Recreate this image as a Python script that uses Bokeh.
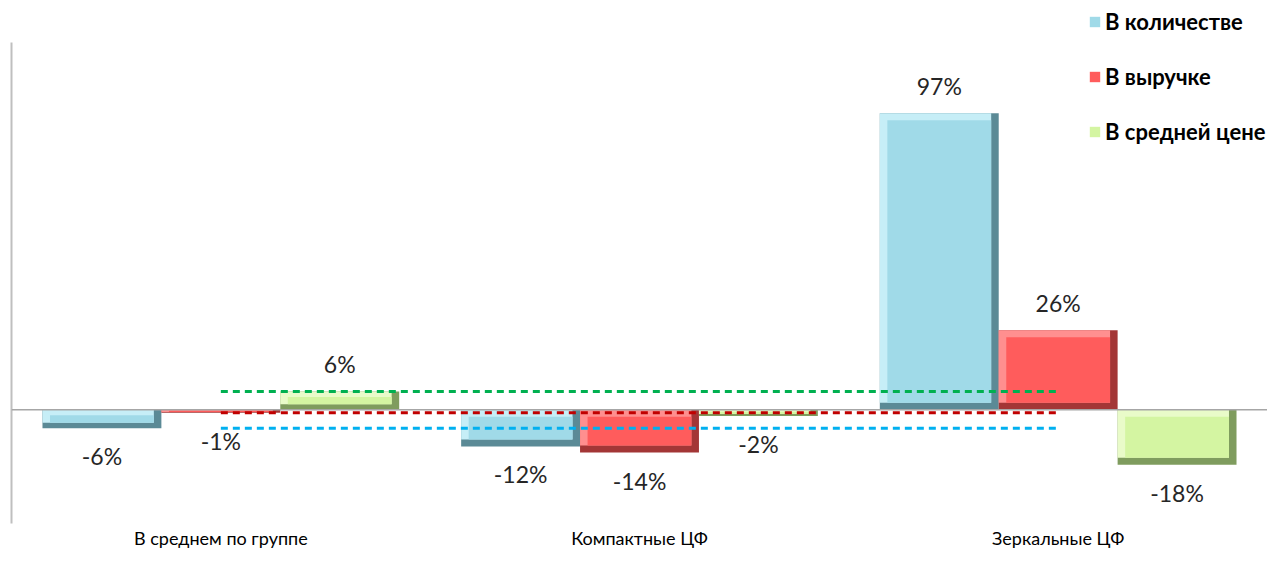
from bokeh.plotting import figure
from bokeh.models import ColumnDataSource, FactorRange, Range1d, Span, Legend, LegendItem, FixedTicker
from bokeh.transform import dodge
from bokeh.core.properties import value
from bokeh.embed import file_html
from bokeh.resources import INLINE

categories = ["В среднем по группе", "Компактные ЦФ", "Зеркальные ЦФ"]
series_names = ["В количестве", "В выручке", "В средней цене"]
qty = [-6, -12, 97]
revenue = [-1, -14, 26]
avg_price = [6, -2, -18]

faces = ["#a0dae8", "#ff5c5c", "#d4f5a2"]
lights = ["#c6eef7", "#ff8f8f", "#e9fbc9"]
darks = ["#5b8a96", "#a33636", "#7f9c5e"]
avg_colors = ["#00b0f0", "#c00000", "#00b050"]
offsets = [-0.284, 0.0, 0.284]
bar_w = 0.284
edge_d = 0.018
edge_i = 2.3

y_lo, y_hi = -37.2, 120.2

p = figure(x_range=FactorRange(factors=categories, range_padding=0),
           y_range=Range1d(y_lo, 133.9),
           width=1267, height=551, output_backend="svg", toolbar_location=None,
           min_border_left=11, min_border_right=0, min_border_top=0, min_border_bottom=0)
p.outline_line_color = None
p.xgrid.visible = False
p.ygrid.visible = False
p.background_fill_color = "white"

p.yaxis.ticker = FixedTicker(ticks=[])
p.yaxis.bounds = (y_lo, y_hi)
p.yaxis.major_tick_line_color = None
p.yaxis.minor_tick_line_color = None
p.yaxis.major_tick_out = 0
p.yaxis.major_tick_in = 0
p.yaxis.minor_tick_out = 0
p.yaxis.axis_line_color = "#bfbfbf"
p.yaxis.axis_line_width = 2
p.yaxis.major_label_standoff = 0

p.xaxis.axis_line_color = None
p.xaxis.major_tick_line_color = None
p.xaxis.major_tick_out = 0
p.xaxis.major_tick_in = 0
p.xaxis.major_label_text_font = "Lato"
p.xaxis.major_label_text_font_size = "18px"
p.xaxis.major_label_text_color = "#000000"
p.xaxis.major_label_standoff = 3

p.add_layout(Span(location=0, dimension="width", line_color="#a6a6a6", line_width=1.5))

legend_items = []
for vals, name, face, light, dark, off in zip([qty, revenue, avg_price], series_names,
                                              faces, lights, darks, offsets):
    inset = [min(abs(v) * 0.3, edge_i) for v in vals]
    hi = [max(v, 0) for v in vals]
    lo = [min(v, 0) for v in vals]
    src = ColumnDataSource(dict(
        cat=categories,
        val=vals,
        hi=hi,
        lo=lo,
        l_bot=[l + i for l, i in zip(lo, inset)],
        f_top=[h - i for h, i in zip(hi, inset)],
        f_bot=[l + i for l, i in zip(lo, inset)],
        label=[f"{v}%" for v in vals],
        yoff=[-27 if v >= 0 else 28 for v in vals],
    ))
    # dark rim (bottom / right)
    p.vbar(x=dodge("cat", off, range=p.x_range), top="hi", bottom="lo", width=bar_w,
           source=src, fill_color=dark, line_color=None)
    # light rim (top / left)
    p.vbar(x=dodge("cat", off - edge_d / 2, range=p.x_range), top="hi", bottom="l_bot",
           width=bar_w - edge_d, source=src, fill_color=light, line_color=None)
    # face
    r = p.vbar(x=dodge("cat", off, range=p.x_range), top="f_top", bottom="f_bot",
               width=bar_w - 2 * edge_d, source=src, fill_color=face, line_color=None)
    legend_items.append(LegendItem(label=name, renderers=[r]))
    p.text(x=dodge("cat", off, range=p.x_range), y="val", text="label", y_offset="yoff",
           source=src, text_align="center", text_baseline="middle",
           text_font=value("Lato"), text_font_size="23px", text_color="#262626")

# group-average reference lines
for vals, ac in zip([qty, revenue, avg_price], avg_colors):
    p.line(x=[categories[0], categories[-1]], y=[vals[0], vals[0]],
           line_color=ac, line_width=3, line_dash="7 5")

legend = Legend(items=legend_items, location=(1077, 378), orientation="vertical",
                label_text_font="Lato", label_text_font_style="bold",
                label_text_font_size="22px", label_text_color="#000000",
                glyph_width=13, glyph_height=13, label_height=20, spacing=28,
                padding=2, margin=0, border_line_color=None, background_fill_alpha=0,
                label_standoff=4)
p.add_layout(legend, "center")

open("out.html", "w").write(file_html(p, INLINE))
